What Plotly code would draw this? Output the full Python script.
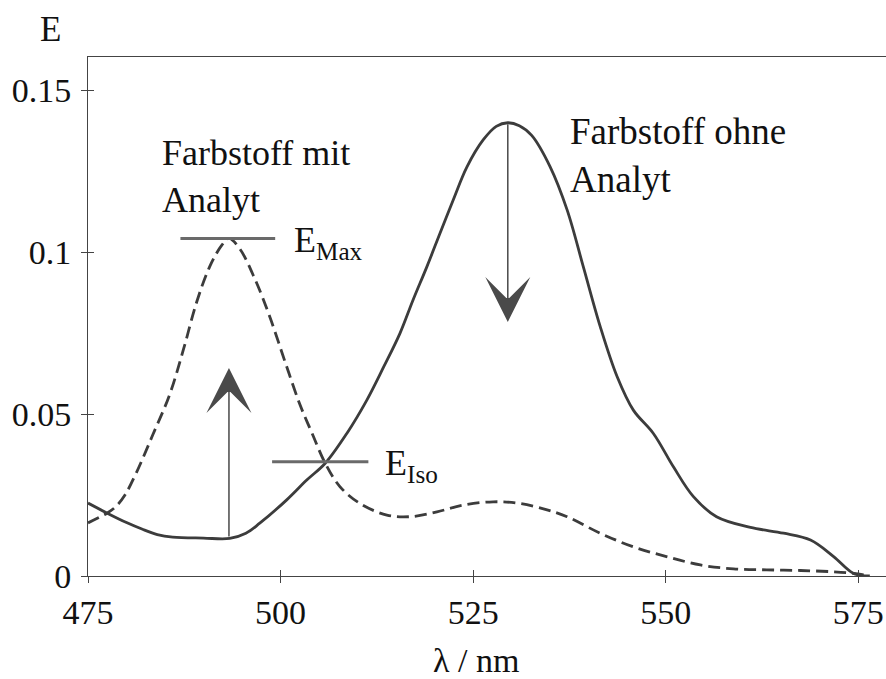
import plotly.graph_objects as go

# Absorption spectrum of the dye without analyte (solid)
wl_ohne = [475, 477.5, 480, 482, 484, 486, 490, 493.4, 495.5, 497.3, 500.8,
           503.4, 505.8, 508.6, 511.2, 513.4, 515.5, 517.2, 519.0, 520.7,
           522.4, 524.2, 526.3, 528.0, 529.5, 531.0, 532.6, 535.0, 537.2,
           539.3, 541.5, 543.7, 545.8, 548.4, 551.0, 553.6, 556.6, 561.0,
           565.3, 568.8, 571.8, 574.4, 576.5]
e_ohne = [0.0225, 0.0194, 0.0165, 0.0145, 0.0128, 0.0120, 0.0117, 0.0116,
          0.0132, 0.0163, 0.0235, 0.0296, 0.0348, 0.0440, 0.0543, 0.0646,
          0.0749, 0.0852, 0.0955, 0.1058, 0.1160, 0.1263, 0.1346, 0.1388,
          0.1399, 0.1390, 0.1360, 0.1263, 0.1130, 0.0955, 0.0770, 0.0615,
          0.0512, 0.0440, 0.0337, 0.0245, 0.0183, 0.0150, 0.0132, 0.0111,
          0.0060, 0.0008, 0.0]

# Absorption spectrum of the dye with analyte (dashed)
wl_mit = [475, 477.4, 478.6, 479.8, 481.3, 483.4, 485.6, 487.4, 489.1, 490.8,
          492.4, 493.3, 494.7, 496.7, 498.6, 500.6, 502.5, 504.1, 505.8, 507.7,
          510.3, 513.8, 516.8, 520.3, 523.7, 527.6, 531.1, 534.6, 537.2, 541.5,
          545.8, 550.1, 554.5, 558.8, 563.1, 567.5, 571.8, 574.4, 576.5]
e_mit = [0.0164, 0.0193, 0.0214, 0.0250, 0.0320, 0.0435, 0.0560, 0.0700,
         0.0845, 0.0955, 0.1022, 0.1042, 0.1010, 0.0915, 0.0800, 0.0660,
         0.0530, 0.0440, 0.0348, 0.0276, 0.0224, 0.0188, 0.0183, 0.0198,
         0.0219, 0.0229, 0.0224, 0.0204, 0.0183, 0.0132, 0.0090, 0.0060,
         0.0034, 0.0022, 0.0019, 0.0017, 0.0013, 0.0008, 0.0]

# Reference levels: maximum of the analyte band and the isosbestic point
e_max_wl = [487.0, 499.3]
e_max_val = [0.1042, 0.1042]
e_iso_wl = [498.9, 511.4]
e_iso_val = [0.0353, 0.0353]

# Change arrows (tail -> head)
arrow_up = dict(wl=493.3, start=0.0117, end=0.0642)
arrow_down = dict(wl=529.5, start=0.1399, end=0.0784)

x_ticks = [475, 500, 525, 550, 575]
y_ticks = [0, 0.05, 0.1, 0.15]
y_ticktext = ["0", "0.05", "0.1", "0.15"]
x_range = [475, 578.6]
y_range = [0, 0.1602]

SERIF = "Liberation Serif"
INK = "#3c3c3c"

fig = go.Figure()

fig.add_trace(go.Scatter(
    x=wl_ohne, y=e_ohne, mode="lines",
    line=dict(color=INK, width=2.8, shape="spline", smoothing=1.0),
    showlegend=False, hoverinfo="skip"))

fig.add_trace(go.Scatter(
    x=wl_mit, y=e_mit, mode="lines",
    line=dict(color=INK, width=2.8, dash="12px,6px", shape="spline", smoothing=1.0),
    showlegend=False, hoverinfo="skip"))

for xs, ys in [(e_max_wl, e_max_val), (e_iso_wl, e_iso_val)]:
    fig.add_trace(go.Scatter(
        x=xs, y=ys, mode="lines",
        line=dict(color="#6a6a6a", width=3),
        showlegend=False, hoverinfo="skip"))

# invisible trace so the tick-overlay axes are instantiated
fig.add_trace(go.Scatter(x=x_range, y=y_range, xaxis="x2", yaxis="y2",
                         mode="lines", line=dict(width=0), opacity=0,
                         showlegend=False, hoverinfo="skip"))

for a in (arrow_up, arrow_down):
    fig.add_annotation(
        x=a["wl"], y=a["end"], ax=a["wl"], ay=a["start"],
        xref="x", yref="y", axref="x", ayref="y",
        text="", showarrow=True, arrowhead=3, arrowsize=5.0,
        arrowwidth=1.5, arrowcolor="#4a4a4a", standoff=0)

text_font = dict(family=SERIF, size=36, color="#111")
fig.add_annotation(x=484.35, y=0.1373, xref="x", yref="y",
                   text="Farbstoff mit<br>Analyt", showarrow=False,
                   xanchor="left", yanchor="top", align="left", font=text_font)
fig.add_annotation(x=537.3, y=0.1440, xref="x", yref="y",
                   text="Farbstoff ohne<br>Analyt", showarrow=False,
                   xanchor="left", yanchor="top", align="left",
                   font=dict(family=SERIF, size=37, color="#111"))
fig.add_annotation(x=501.5, y=0.1030, xref="x", yref="y",
                   text="E<sub>Max</sub>", showarrow=False,
                   xanchor="left", yanchor="middle", font=text_font)
fig.add_annotation(x=513.3, y=0.0340, xref="x", yref="y",
                   text="E<sub>Iso</sub>", showarrow=False,
                   xanchor="left", yanchor="middle", font=text_font)

# axis labels: upright "E" above the y axis, "λ / nm" below the x axis
fig.add_annotation(x=-38 / 798, y=1 + (57 - 30) / 519, xref="paper", yref="paper",
                   text="E", showarrow=False, xanchor="center", yanchor="middle",
                   font=dict(family=SERIF, size=35, color="#111"))
fig.add_annotation(x=(476 - 88) / 798, y=(576 - 660) / 519, xref="paper", yref="paper",
                   text="λ / nm", showarrow=False, xanchor="center", yanchor="middle",
                   font=dict(family=SERIF, size=34, color="#111"))

fig.update_layout(
    width=886, height=679,
    margin=dict(l=88, r=0, t=57, b=103),
    paper_bgcolor="white", plot_bgcolor="white",
    font=dict(family=SERIF, color="#111"),
    xaxis=dict(range=x_range, tickvals=x_ticks, ticks="outside", ticklen=6,
               tickcolor="#444", showline=True, linecolor="#444", linewidth=1,
               mirror=True, showgrid=False, zeroline=False,
               tickfont=dict(family=SERIF, size=34, color="#111")),
    yaxis=dict(range=y_range, tickvals=y_ticks, ticktext=y_ticktext, ticks="outside",
               ticklen=6, tickcolor="#444", showline=True, linecolor="#444",
               linewidth=1, showgrid=False, zeroline=False, ticklabelstandoff=3,
               tickfont=dict(family=SERIF, size=34, color="#111")),
    xaxis2=dict(range=x_range, overlaying="x", anchor="y2", tickvals=x_ticks,
                ticks="inside", ticklen=6, tickcolor="#444", showticklabels=False,
                showline=False, showgrid=False, zeroline=False),
    yaxis2=dict(range=y_range, overlaying="y", anchor="x2", tickvals=y_ticks,
                ticks="inside", ticklen=6, tickcolor="#444", showticklabels=False,
                showline=False, showgrid=False, zeroline=False),
)

fig.write_html("out.html")
